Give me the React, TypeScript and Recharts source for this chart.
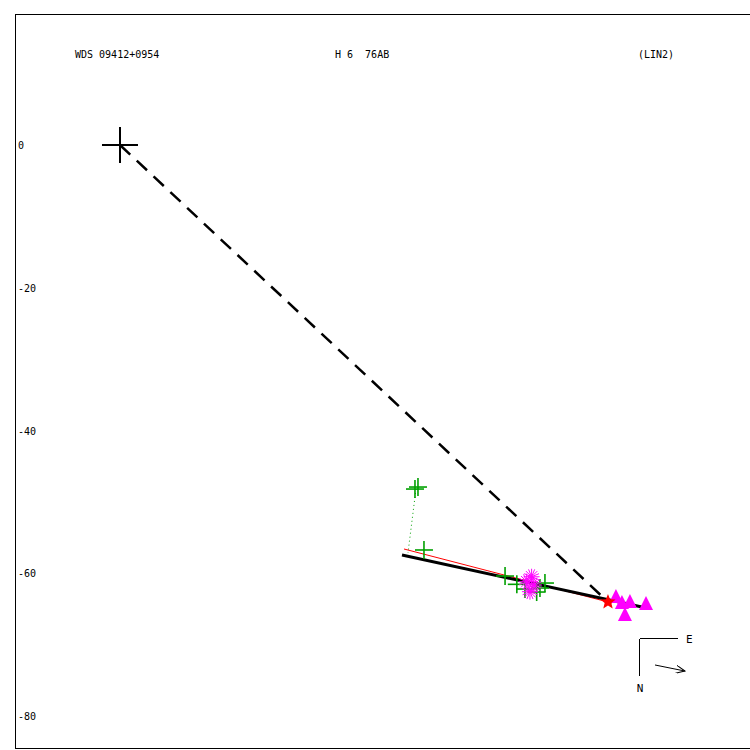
import React from 'react';
import { ScatterChart, Scatter, XAxis, YAxis, ReferenceLine } from 'recharts';

// plot frame in the same units as the data (equal scale on both axes)
const xDomain = [-14.71, 89.67];
const yDomain = [-84.48, 18.35];
const yTicks = [0, -20, -40, -60, -80];

const primaryStar = [{ x: 0, y: 0 }];

const greenCrosses = [
  { x: 41.33, y: -48.2 },
  { x: 41.75, y: -47.92 },
  { x: 42.59, y: -56.74 },
  { x: 53.95, y: -60.39 },
  { x: 55.6, y: -61.55 },
  { x: 56.74, y: -62.21 },
  { x: 58.38, y: -62.63 },
  { x: 58.84, y: -62.07 },
  { x: 59.54, y: -61.37 },
];

const magentaAsterisks = [
  { x: 57.67, y: -60.49 },
  { x: 56.98, y: -61.18 },
  { x: 58.0, y: -61.65 },
  { x: 57.44, y: -62.58 },
];

const magentaTriangles = [
  { x: 69.49, y: -63.33 },
  { x: 70.33, y: -64.17 },
  { x: 71.45, y: -64.03 },
  { x: 73.7, y: -64.31 },
  { x: 70.75, y: -65.85 },
];

const redStar = [{ x: 68.37, y: -64.03 }];

const fitLine = [{ x: 39.51, y: -57.44 }, { x: 73.13, y: -64.73 }];
const redLine = [{ x: 39.79, y: -56.6 }, { x: 68.93, y: -64.17 }];
const dashedLine = [{ x: 0, y: 0 }, { x: 68.09, y: -63.75 }];
const dottedLine = [{ x: 41.47, y: -48.2 }, { x: 40.35, y: -57.16 }];

const compassE = [{ x: 72.85, y: -69.2 }, { x: 78.18, y: -69.2 }];
const compassN = [{ x: 72.85, y: -69.2 }, { x: 72.85, y: -74.4 }];
const motionArrow = [{ x: 74.96, y: -72.85 }, { x: 79.16, y: -73.7 }];

const headerTexts = ['WDS 09412+0954', 'H 6  76AB', '(LIN2)'];

const font = 'DejaVu Sans Mono, monospace';

const BigCross = (p: any) => (
  <g stroke="#000" strokeWidth={2}>
    <line x1={p.cx - 18} y1={p.cy} x2={p.cx + 18} y2={p.cy} />
    <line x1={p.cx} y1={p.cy - 18} x2={p.cx} y2={p.cy + 18} />
  </g>
);

const GreenCross = (p: any) => (
  <g stroke="#00a000" strokeWidth={1.6}>
    <line x1={p.cx - 9} y1={p.cy} x2={p.cx + 9} y2={p.cy} />
    <line x1={p.cx} y1={p.cy - 9} x2={p.cx} y2={p.cy + 9} />
  </g>
);

const Asterisk = (p: any) => (
  <g stroke="#ff00ff" strokeWidth={1}>
    {[0, 22.5, 45, 67.5, 90, 112.5, 135, 157.5].map((a) => {
      const r = (a * Math.PI) / 180;
      return (
        <line key={a} x1={p.cx - 8 * Math.cos(r)} y1={p.cy - 8 * Math.sin(r)}
          x2={p.cx + 8 * Math.cos(r)} y2={p.cy + 8 * Math.sin(r)} />
      );
    })}
  </g>
);

const Triangle = (p: any) => (
  <polygon fill="#ff00ff"
    points={`${p.cx},${p.cy - 8} ${p.cx - 7},${p.cy + 6} ${p.cx + 7},${p.cy + 6}`} />
);

const RedStar = (p: any) => {
  const pts: string[] = [];
  for (let i = 0; i < 10; i++) {
    const r = i % 2 === 0 ? 8 : 3.5;
    const a = (Math.PI / 5) * i - Math.PI / 2;
    pts.push(`${p.cx + r * Math.cos(a)},${p.cy + r * Math.sin(a)}`);
  }
  return <polygon fill="#ff0000" points={pts.join(' ')} />;
};

const YTick = (p: any) => (
  <text x={18} y={p.y} dy={4} fontSize={10} fontFamily={font} fill="#000">
    {p.payload.value}
  </text>
);

const App = () => {
  return (
    <div style={{ position: 'absolute', left: 0, top: 0, width: 750, height: 750, overflow: 'hidden' }}>
      <ScatterChart width={760} height={750} margin={{ top: 14, right: 0, bottom: 2, left: 0 }}
        style={{ background: '#fff' }}>
        <defs>
          <marker id="arrow" markerWidth="10" markerHeight="8" refX="9" refY="4" orient="auto" markerUnits="userSpaceOnUse">
            <path d="M0,0 L9,4 L0,8" fill="none" stroke="#000" strokeWidth={1} />
          </marker>
        </defs>
        <XAxis type="number" dataKey="x" domain={xDomain} hide allowDataOverflow />
        <YAxis type="number" dataKey="y" domain={yDomain} ticks={yTicks} width={15}
          allowDataOverflow axisLine={{ stroke: '#000', strokeWidth: 1, shapeRendering: 'crispEdges' }}
          tickLine={false} tick={<YTick />} interval={0} />

        <ReferenceLine y={yDomain[1]} stroke="#000" strokeWidth={1} shapeRendering="crispEdges" />
        <ReferenceLine y={yDomain[0]} stroke="#000" strokeWidth={1} shapeRendering="crispEdges" />

        <ReferenceLine segment={dottedLine} stroke="#00a000" strokeWidth={1} strokeDasharray="1 3" />
        <ReferenceLine segment={redLine} stroke="#ff0000" strokeWidth={1} />
        <ReferenceLine segment={fitLine} stroke="#000" strokeWidth={3} />
        <ReferenceLine segment={dashedLine} stroke="#000" strokeWidth={2.5} strokeDasharray="14 9" />

        <ReferenceLine segment={compassE} stroke="#000" strokeWidth={1} shapeRendering="crispEdges"
          label={{ value: 'E', position: 'right', fontSize: 11, fontFamily: font, fill: '#000', offset: 8 }} />
        <ReferenceLine segment={compassN} stroke="#000" strokeWidth={1} shapeRendering="crispEdges"
          label={{ value: 'N', position: 'bottom', fontSize: 11, fontFamily: font, fill: '#000', offset: 8 }} />
        <ReferenceLine segment={motionArrow} stroke="#000" strokeWidth={1} markerEnd="url(#arrow)" />

        <Scatter data={greenCrosses} shape={GreenCross} isAnimationActive={false} />
        <Scatter data={magentaAsterisks} shape={Asterisk} isAnimationActive={false} />
        <Scatter data={magentaTriangles} shape={Triangle} isAnimationActive={false} />
        <Scatter data={redStar} shape={RedStar} isAnimationActive={false} />
        <Scatter data={primaryStar} shape={BigCross} isAnimationActive={false} />

        <text x={75} y={58} fontSize={10} fontFamily={font} fill="#000">{headerTexts[0]}</text>
        <text x={335} y={58} fontSize={10} fontFamily={font} fill="#000" style={{ whiteSpace: 'pre' }}>{headerTexts[1]}</text>
        <text x={638} y={58} fontSize={10} fontFamily={font} fill="#000">{headerTexts[2]}</text>
      </ScatterChart>
    </div>
  );
};

export default App;
